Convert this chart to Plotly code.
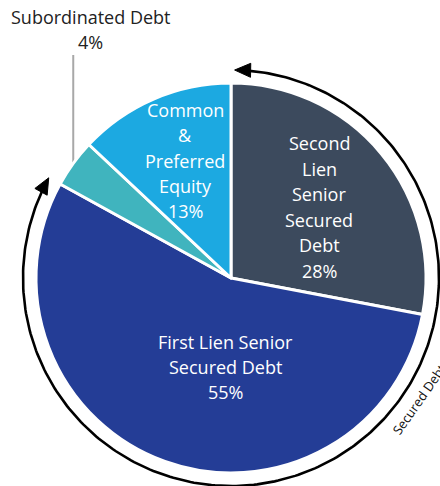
import numpy as np
import plotly.graph_objects as go

# ---- data ----
labels = ["Second Lien Senior Secured Debt", "First Lien Senior Secured Debt",
          "Subordinated Debt", "Common & Preferred Equity"]
values = [28, 55, 4, 13]
colors = ["#3c4a5d", "#243d96", "#40b4be", "#1ca9e1"]
label_lines = [["Second", "Lien", "Senior", "Secured", "Debt"],
               ["First Lien Senior", "Secured Debt"],
               ["Subordinated Debt"],
               ["Common", "&", "Preferred", "Equity"]]
secured = [True, True, False, False]
group_label = "Secured Debt"

# ---- geometry (pixels) ----
W, H = 440, 486
cx, cy, R = 231, 278, 195
total = sum(values)


def pt(r, t_deg):
    t = np.radians(t_deg)
    return cx + r * np.sin(t), cy - r * np.cos(t)


fig = go.Figure()

fig.add_trace(go.Pie(
    labels=labels, values=values, sort=False, direction="clockwise", rotation=0,
    marker=dict(colors=colors, line=dict(color="white", width=3)),
    textinfo="none", hoverinfo="skip", showlegend=False,
    domain=dict(x=[(cx - R) / W, (cx + R) / W], y=[1 - (cy + R) / H, 1 - (cy - R) / H]),
))

# secured-debt arc with arrows
sec_share = sum(v for v, s in zip(values, secured) if s) / total * 360
ra = 208
alen, ahw = 16, 7
t0, t1 = 1.0, sec_share
dt = np.degrees(alen / ra)
ts = np.linspace(t0 + dt * 0.8, t1 - dt * 0.8, 300)
ax_, ay_ = pt(ra, ts)
fig.add_trace(go.Scatter(x=ax_, y=ay_, mode="lines", line=dict(color="black", width=2.6),
                         hoverinfo="skip", showlegend=False))
for t, sgn in [(t0, -1), (t1, 1)]:
    tr = np.radians(t)
    tipx, tipy = pt(ra, t)
    dx, dy = sgn * np.cos(tr), sgn * np.sin(tr)
    bx, by = tipx - alen * dx, tipy - alen * dy
    nx, ny = -dy, dx
    fig.add_trace(go.Scatter(
        x=[tipx, bx + ahw * nx, bx - ahw * nx, tipx],
        y=[tipy, by + ahw * ny, by - ahw * ny, tipy],
        mode="lines", fill="toself", fillcolor="black", line=dict(color="black", width=1),
        hoverinfo="skip", showlegend=False))

# leader line for Subordinated Debt
cum = np.cumsum([0] + values)
mid_sub = (cum[2] + values[2] / 2) / total * 360
lx, ly = pt(R, mid_sub)
fig.add_trace(go.Scatter(x=[lx, lx], y=[55, ly], mode="lines",
                         line=dict(color="#a8a8a8", width=2), hoverinfo="skip", showlegend=False))

# labels (one annotation per line for line spacing)
label_pos = [(319, 143, 25.6, "white"), (225, 342, 25.0, "white"),
             (90.5, 16.7, 25.6, "#222222"), (185, 110, 25.3, "white")]
for lines, v, (x0, y0, lh, col) in zip(label_lines, values, label_pos):
    for i, s in enumerate(lines + [f"{v}%"]):
        fig.add_annotation(x=x0, y=y0 + i * lh, text=s, showarrow=False,
                           xanchor="center", yanchor="middle",
                           font=dict(family="Open Sans", size=18, color=col))

fig.add_annotation(x=418.5, y=399.5, text=group_label, showarrow=False, textangle=-55,
                   xanchor="center", yanchor="middle",
                   font=dict(family="Open Sans", size=13, color="#111111"))

fig.update_layout(
    width=W, height=H, margin=dict(l=0, r=0, t=0, b=0),
    paper_bgcolor="white", plot_bgcolor="white",
    xaxis=dict(range=[0, W], visible=False, fixedrange=True),
    yaxis=dict(range=[H, 0], visible=False, fixedrange=True),
)

fig.write_html("out.html", config={"displayModeBar": False},
               post_script="document.body.style.margin='0';")
